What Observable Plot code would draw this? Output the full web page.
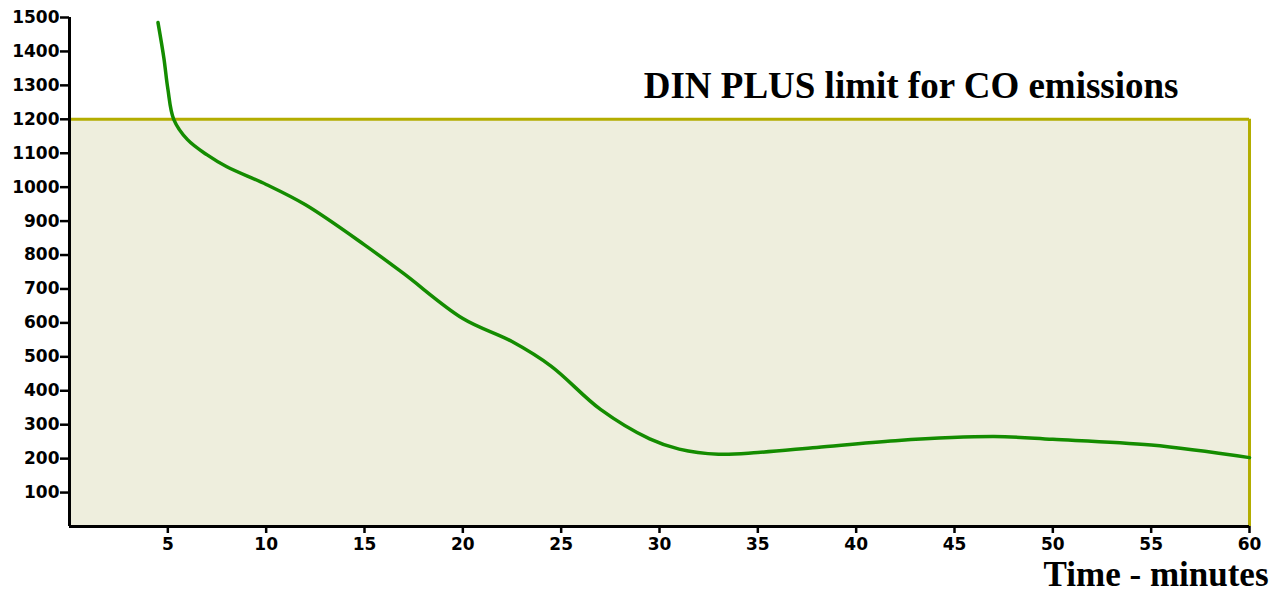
<!DOCTYPE html>
<html>
<head>
<meta charset="utf-8">
<script src="https://cdn.jsdelivr.net/npm/d3@7"></script>
<script src="https://cdn.jsdelivr.net/npm/@observablehq/plot@0.6"></script>
<style>
  html, body { margin: 0; padding: 0; background: #ffffff; }
  #chart svg { display: block; }
</style>
</head>
<body>
<div id="chart"></div>
<script>
// Data
const minutes = [4.5, 4.8, 5.0, 5.3, 6, 7, 8, 10, 12, 15, 17, 20, 22.5, 24.5, 27, 29.5, 31, 33, 35, 38, 42, 47, 50, 55, 60];
const coValues = [1485, 1380, 1290, 1200, 1140, 1095, 1060, 1008, 948, 830, 745, 613, 545, 472, 345, 258, 228, 213, 218, 233, 253, 265, 257, 240, 203];
const limitValue = 1200;
const limitSpan = [0, 60];
const xTicks = [5, 10, 15, 20, 25, 30, 35, 40, 45, 50, 55, 60];
const yTicks = [100, 200, 300, 400, 500, 600, 700, 800, 900, 1000, 1100, 1200, 1300, 1400, 1500];
const titleText = "DIN PLUS limit for CO emissions";
const xLabelText = "Time - minutes";

const series = minutes.map((m, i) => ({ m, v: coValues[i] }));
const limitBox = [{ x1: limitSpan[0], x2: limitSpan[1], y1: 0, y2: limitValue }];

const plot = Plot.plot({
  width: 1272,
  height: 595,
  marginLeft: 69,
  marginRight: 23,
  marginTop: 17,
  marginBottom: 69,
  style: { fontFamily: "DejaVu Sans", fontWeight: "bold", fontSize: "17px", color: "black", background: "white" },
  x: { domain: [0, 60] },
  y: { domain: [0, 1500] },
  marks: [
    Plot.rect(limitBox, { x1: "x1", x2: "x2", y1: "y1", y2: "y2", fill: "#eeeedd" }),
    Plot.ruleY([limitValue], { x1: limitSpan[0], x2: limitSpan[1], stroke: "#b3ad00", strokeWidth: 3 }),
    Plot.ruleX([limitSpan[1]], { y1: 0, y2: limitValue, stroke: "#b3ad00", strokeWidth: 3 }),
    Plot.line(series, { x: "m", y: "v", curve: "catmull-rom", stroke: "#148c00", strokeWidth: 3.5 }),
    Plot.axisY({ ticks: yTicks, tickFormat: d => String(d), tickSize: 9, tickPadding: 1, label: null, strokeWidth: 2.5, fontSize: 17 }),
    Plot.axisX({ ticks: xTicks, tickFormat: d => String(d), tickSize: 7, tickPadding: 4, label: null, strokeWidth: 2.5, fontSize: 17 }),
    Plot.ruleX([0], { y1: 0, y2: 1500, stroke: "black", strokeWidth: 3 }),
    Plot.ruleY([0], { x1: 0, x2: 60, stroke: "black", strokeWidth: 3 }),
    Plot.text([titleText], { frameAnchor: "top-right", textAnchor: "end", lineAnchor: "bottom", dx: -71, dy: 80, fontFamily: "Liberation Serif", fontWeight: "bold", fontSize: 37, fill: "black" }),
    Plot.text([xLabelText], { frameAnchor: "bottom-right", textAnchor: "end", lineAnchor: "bottom", dx: 19, dy: 59, fontFamily: "Liberation Serif", fontWeight: "bold", fontSize: 35, fill: "black" })
  ]
});
document.getElementById("chart").appendChild(plot);
</script>
</body>
</html>
